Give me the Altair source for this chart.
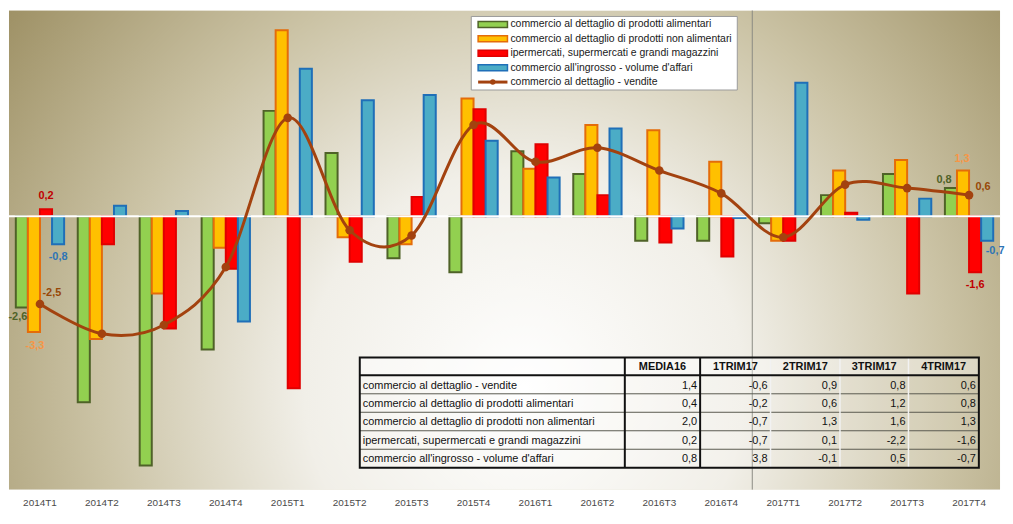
import altair as alt
import pandas as pd

# ---------------- data ----------------
quarters = ["2014T1", "2014T2", "2014T3", "2014T4", "2015T1", "2015T2", "2015T3", "2015T4",
            "2016T1", "2016T2", "2016T3", "2016T4", "2017T1", "2017T2", "2017T3", "2017T4"]

s_alim = "commercio al dettaglio di prodotti alimentari"
s_nonalim = "commercio al dettaglio di prodotti non alimentari"
s_iper = "ipermercati, supermercati e grandi magazzini"
s_ingr = "commercio all'ingrosso - volume d'affari"
s_vend = "commercio al dettaglio - vendite"
bar_series = [s_alim, s_nonalim, s_iper, s_ingr]

alimentari = [-2.6, -5.3, -7.1, -3.8, 3.0, 1.8, -1.2, -1.6, 1.85, 1.2, -0.7, -0.7, -0.2, 0.6, 1.2, 0.8]
non_alimentari = [-3.3, -3.5, -2.2, -0.9, 5.3, -0.6, -0.8, 3.35, 1.35, 2.6, 2.45, 1.55, -0.7, 1.3, 1.6, 1.3]
ipermercati = [0.2, -0.8, -3.2, -1.5, -4.9, -1.3, 0.55, 3.05, 2.05, 0.6, -0.75, -1.15, -0.7, 0.1, -2.2, -1.6]
ingrosso = [-0.8, 0.3, 0.15, -3.0, 4.2, 3.3, 3.45, 2.15, 1.1, 2.5, -0.35, -0.05, 3.8, -0.1, 0.5, -0.7]
vendite = [-2.5, -3.35, -3.1, -1.45, 2.8, -0.4, -0.55, 2.6, 1.55, 1.95, 1.3, 0.65, -0.6, 0.9, 0.8, 0.6]

table_rows = [s_vend, s_alim, s_nonalim, s_iper, s_ingr]
table_cols = ["MEDIA16", "1TRIM17", "2TRIM17", "3TRIM17", "4TRIM17"]
media16 = [1.4, 0.4, 2.0, 0.2, 0.8]

# ---------------- styles ----------------
fills = ["#92d050", "#ffc000", "#ff0000", "#4bacc6"]
strokes = ["#4f6228", "#e46c0a", "#e00000", "#1f6fb8"]
line_col = "#a3420f"
FONT = "Liberation Sans"

W, H = 997, 482
N = len(quarters)
STEP = W / N
PAD = 0.22
YDOM = [-7.79, 5.86]


def fmt(v):
    return f"{v:.1f}".replace(".", ",")


def cx(ref):
    return 31.16 + (ref - 35) * 0.9839


def cy(ref):
    return ref - 8


series_values = {s_alim: alimentari, s_nonalim: non_alimentari, s_iper: ipermercati, s_ingr: ingrosso}
bars_df = pd.DataFrame([
    {"quarter": q, "series": s, "value": series_values[s][i], "label": fmt(series_values[s][i])}
    for s in bar_series for i, q in enumerate(quarters)
])
line_df = pd.DataFrame({"quarter": quarters, "value": vendite, "label": [fmt(v) for v in vendite]})
one = pd.DataFrame({"a": [0]})

x_enc = alt.X("quarter:N", sort=quarters,
              scale=alt.Scale(paddingInner=PAD, paddingOuter=PAD / 2),
              axis=alt.Axis(title=None, labelAngle=0, ticks=False, domain=False, grid=False,
                            bandPosition=0.5, labelAlign="center", labelFontWeight="normal",
                            labelPadding=13, labelFontSize=10, labelColor="#4a4a4a", labelFont=FONT))
y_enc = alt.Y("value:Q", scale=alt.Scale(domain=YDOM, nice=False, zero=False), axis=None)
xoff = alt.XOffset("series:N", sort=bar_series, scale=alt.Scale(paddingInner=0, paddingOuter=0))

# background gradient
bg = alt.Chart(one).mark_rect(
    fill=alt.RadialGradient(
        gradient="radial", x1=0.52, y1=0.64, r1=0, x2=0.52, y2=0.64, r2=0.74,
        stops=[alt.GradientStop(offset=0, color="#ffffff"),
               alt.GradientStop(offset=0.3, color="#f1efe8"),
               alt.GradientStop(offset=0.58, color="#cbc3a5"),
               alt.GradientStop(offset=0.86, color="#a09368"),
               alt.GradientStop(offset=1, color="#8f8152")])
).encode(x=alt.value(0), x2=alt.value(W), y=alt.value(0), y2=alt.value(H))

divider = alt.Chart(one).mark_rule(color="#8a8a82", strokeWidth=1, xOffset=STEP / 2).encode(
    x=alt.X("q:N", sort=quarters), y=alt.value(0), y2=alt.value(H)
).transform_calculate(q="'2016T4'")

bars = alt.Chart(bars_df).mark_bar(strokeWidth=2).encode(
    x=x_enc, xOffset=xoff, y=y_enc, y2=alt.datum(0),
    fill=alt.Fill("series:N", scale=alt.Scale(domain=bar_series, range=fills), legend=None),
    stroke=alt.Stroke("series:N", scale=alt.Scale(domain=bar_series, range=strokes), legend=None),
)

zero_line = alt.Chart(one).mark_rule(color="#ffffff", strokeWidth=2).encode(
    x=alt.value(0), x2=alt.value(W), y=alt.datum(0))

line = alt.Chart(line_df).mark_line(interpolate="cardinal", color=line_col, strokeWidth=3).encode(
    x=alt.X("quarter:N", sort=quarters), y="value:Q")
points = alt.Chart(line_df).mark_circle(size=75, color=line_col, opacity=1).encode(
    x=alt.X("quarter:N", sort=quarters), y="value:Q")

# data labels
label_specs = [
    # (quarter, series, color, dx, dy)
    ("2014T1", s_iper, "#c00000", 0, -13),
    ("2014T1", s_ingr, "#2e75b6", 0, 13),
    ("2014T1", s_alim, "#4f6228", -4, 10),
    ("2014T1", s_nonalim, "#f79646", 1, 14),
    ("2017T4", s_alim, "#4f6228", -7, -8),
    ("2017T4", s_nonalim, "#f79646", -1, -12),
    ("2017T4", s_iper, "#c00000", 0, 13),
    ("2017T4", s_ingr, "#2e75b6", 8, 10),
]
labels = []
for q, s, col, dx, dy in label_specs:
    labels.append(
        alt.Chart(bars_df).transform_filter(
            (alt.datum.quarter == q) & (alt.datum.series == s)
        ).mark_text(color=col, dx=dx, dy=dy, fontSize=11, fontWeight="bold", font=FONT).encode(
            x=alt.X("quarter:N", sort=quarters), xOffset=xoff, y="value:Q", text="label:N")
    )
for q, dx, dy in [("2014T1", 12, -11), ("2017T4", 14, -8)]:
    labels.append(
        alt.Chart(line_df).transform_filter(alt.datum.quarter == q).mark_text(
            color="#984807", dx=dx, dy=dy, fontSize=11, fontWeight="bold", font=FONT).encode(
            x=alt.X("quarter:N", sort=quarters), y="value:Q", text="label:N")
    )

# ---------------- legend (manual) ----------------
lx0, lx1, ly0, ly1 = cx(476), cx(748), cy(14), cy(88)
leg = [alt.Chart(one).mark_rect(fill="#ffffff", stroke="#9a9a9a", strokeWidth=1).encode(
    x=alt.value(lx0), x2=alt.value(lx1), y=alt.value(ly0), y2=alt.value(ly1))]
row_y = [cy(22), cy(36.5), cy(51), cy(65.5), cy(80)]
sx0, sx1, tx = cx(483), cx(513), cx(516)
for i, s in enumerate(bar_series):
    leg.append(alt.Chart(one).mark_rect(fill=fills[i], stroke=strokes[i], strokeWidth=1.5).encode(
        x=alt.value(sx0), x2=alt.value(sx1), y=alt.value(row_y[i] - 3), y2=alt.value(row_y[i] + 3)))
names = bar_series + [s_vend]
leg.append(alt.Chart(one).mark_rule(color=line_col, strokeWidth=3).encode(
    x=alt.value(sx0), x2=alt.value(sx1), y=alt.value(row_y[4])))
leg.append(alt.Chart(one).mark_circle(color=line_col, size=30, opacity=1).encode(
    x=alt.value((sx0 + sx1) / 2), y=alt.value(row_y[4])))
for i, s in enumerate(names):
    leg.append(alt.Chart(one).mark_text(text=s, align="left", baseline="middle", fontSize=10.5,
                                        font=FONT, color="#1a1a1a").encode(
        x=alt.value(tx), y=alt.value(row_y[i])))

# ---------------- table ----------------
col_edges = [cx(v) for v in [362, 633, 710, 782, 853, 923, 995]]
ty0, ty_h = cy(357), cy(375)
ty1 = cy(468)
rh = (ty1 - ty_h) / len(table_rows)
row_tops = [ty_h + k * rh for k in range(len(table_rows) + 1)]

last4 = {s_vend: vendite[-4:], s_alim: alimentari[-4:], s_nonalim: non_alimentari[-4:],
         s_iper: ipermercati[-4:], s_ingr: ingrosso[-4:]}

tbl = [
    alt.Chart(one).mark_rect(fill="#ffffff", opacity=0.15).encode(
        x=alt.value(col_edges[0]), x2=alt.value(col_edges[-1]), y=alt.value(ty0), y2=alt.value(ty1)),
    alt.Chart(one).mark_rect(fill="#ffffff", opacity=0.3).encode(
        x=alt.value(col_edges[0]), x2=alt.value(col_edges[-1]), y=alt.value(ty0), y2=alt.value(ty_h)),
]
for k in range(1, len(table_rows)):
    tbl.append(alt.Chart(one).mark_rule(color="#5a5a50", strokeWidth=1).encode(
        x=alt.value(col_edges[0]), x2=alt.value(col_edges[-1]), y=alt.value(row_tops[k])))
for c in col_edges[3:6]:
    tbl.append(alt.Chart(one).mark_rule(color="#f2f2f2", strokeWidth=1.5).encode(
        x=alt.value(c), y=alt.value(ty0), y2=alt.value(ty1)))
tbl.append(alt.Chart(one).mark_rule(color="#111111", strokeWidth=2).encode(
    x=alt.value(col_edges[0]), x2=alt.value(col_edges[-1]), y=alt.value(ty_h)))
for c in [col_edges[1], col_edges[2]]:
    tbl.append(alt.Chart(one).mark_rule(color="#111111", strokeWidth=2).encode(
        x=alt.value(c), y=alt.value(ty0), y2=alt.value(ty1)))
tbl.append(alt.Chart(one).mark_rect(fill="transparent", stroke="#111111", strokeWidth=2).encode(
    x=alt.value(col_edges[0]), x2=alt.value(col_edges[-1]), y=alt.value(ty0), y2=alt.value(ty1)))

for j, c in enumerate(table_cols):
    tbl.append(alt.Chart(one).mark_text(text=c, align="center", baseline="middle", fontSize=11,
                                        fontWeight="bold", font=FONT, color="#111111").encode(
        x=alt.value((col_edges[j + 1] + col_edges[j + 2]) / 2), y=alt.value((ty0 + ty_h) / 2 + 1)))
for k, r in enumerate(table_rows):
    ymid = row_tops[k] + rh / 2 + 1
    tbl.append(alt.Chart(one).mark_text(text=r, align="left", baseline="middle", fontSize=11,
                                        font=FONT, color="#111111").encode(
        x=alt.value(col_edges[0] + 3), y=alt.value(ymid)))
    vals = [media16[k]] + last4[r]
    for j, v in enumerate(vals):
        tbl.append(alt.Chart(one).mark_text(text=fmt(v), align="right", baseline="middle",
                                            fontSize=11, font=FONT, color="#111111").encode(
            x=alt.value(col_edges[j + 2] - 3), y=alt.value(ymid)))

chart = alt.layer(bg, divider, bars, zero_line, line, points, *labels, *leg, *tbl).properties(
    width=W, height=H, padding=0
).configure_view(stroke=None)

chart.save("out.html", embed_options={"renderer": "svg", "actions": False})
